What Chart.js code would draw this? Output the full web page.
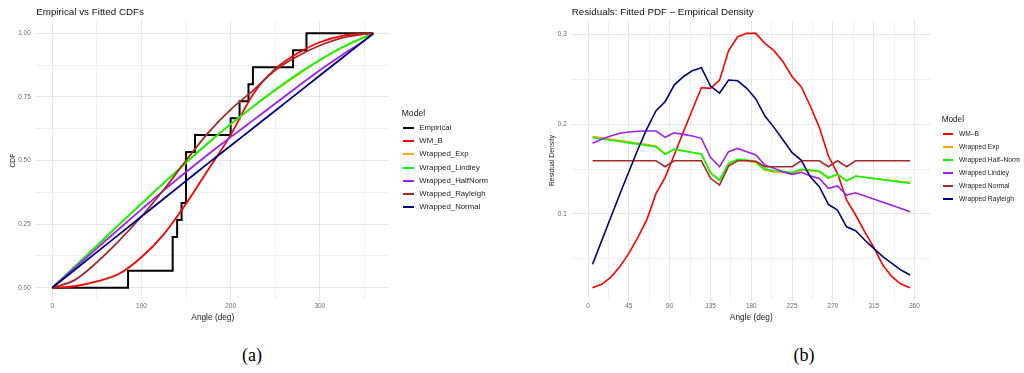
<!DOCTYPE html>
<html><head><meta charset="utf-8">
<script src="https://cdn.jsdelivr.net/npm/chart.js@4.4.1/dist/chart.umd.min.js"></script>
<style>
html,body{margin:0;padding:0;background:#fff;width:1024px;height:373px;overflow:hidden;position:relative;font-family:"Liberation Sans",Arial,sans-serif;}
canvas{position:absolute;top:0;}
#cA{left:0}
#cB{left:512px}
.lg{position:absolute;white-space:nowrap;color:#1a1a1a;height:12px;line-height:12px}
.sw{position:absolute;height:2px}
.cap{position:absolute;font-family:"Liberation Serif","DejaVu Serif",serif;font-size:18px;transform:translate(-50%,-50%);color:#000}
</style></head>
<body>
<canvas id="cA" width="512" height="330"></canvas>
<canvas id="cB" width="512" height="330"></canvas>
<div class="cap" style="left:252px;top:355px">(a)</div>
<div class="cap" style="left:804px;top:355px">(b)</div>
<script>
// ---------- Panel (a): CDFs ----------
const empAngles = [0, 85, 135, 140, 145, 150, 160, 200, 210, 220, 225, 270, 285, 360];
const empCDF    = [0, 0.0667, 0.2, 0.2667, 0.3333, 0.5333, 0.6, 0.6667, 0.7333, 0.8, 0.8667, 0.9333, 1, 1];

const cdfAngles   = [0, 25, 50, 75, 100, 125, 150, 175, 200, 225, 250, 275, 300, 325, 350, 360];
const cdfWMB      = [0, 0.006, 0.025, 0.055, 0.12, 0.21, 0.33, 0.465, 0.6, 0.76, 0.86, 0.922, 0.965, 0.99, 0.999, 1];
const cdfExp      = [0, 0.082, 0.165, 0.248, 0.33, 0.411, 0.491, 0.569, 0.642, 0.711, 0.776, 0.836, 0.894, 0.944, 0.985, 1];
const cdfLindley  = [0, 0.083, 0.166, 0.249, 0.331, 0.412, 0.492, 0.57, 0.643, 0.712, 0.778, 0.84, 0.895, 0.945, 0.985, 1];
const cdfHalfNorm = [0, 0.078, 0.155, 0.232, 0.308, 0.383, 0.455, 0.525, 0.592, 0.658, 0.724, 0.79, 0.855, 0.915, 0.972, 1];
const cdfRayleigh = [0, 0.03, 0.1, 0.185, 0.28, 0.385, 0.5, 0.61, 0.7, 0.775, 0.855, 0.91, 0.952, 0.982, 0.997, 1];
const cdfNormal   = [0, 0.07, 0.14, 0.21, 0.28, 0.35, 0.42, 0.49, 0.558, 0.627, 0.696, 0.765, 0.834, 0.903, 0.972, 1];

const cdfModels = ['Empirical', 'WM_B', 'Wrapped_Exp', 'Wrapped_Lindley', 'Wrapped_HalfNorm', 'Wrapped_Rayleigh', 'Wrapped_Normal'];
const cdfXTickValues = [0, 50, 100, 150, 200, 250, 300, 350];
const cdfXTickLabels = ['0', '', '100', '', '200', '', '300', ''];
const cdfYTickValues = [0, 0.125, 0.25, 0.375, 0.5, 0.625, 0.75, 0.875, 1];
const cdfYTickLabels = ['0.00', '', '0.25', '', '0.50', '', '0.75', '', '1.00'];

// ---------- Panel (b): residual densities ----------
const resAngles = [5, 15, 25, 35, 45, 55, 65, 75, 85, 95, 105, 115, 125, 135, 145, 155, 165, 175, 185, 195, 205, 215, 225, 235, 245, 255, 265, 275, 285, 295, 305, 315, 325, 335, 345, 355];
const resWMB      = [0.0178, 0.0216, 0.0294, 0.0412, 0.0561, 0.0739, 0.094, 0.1229, 0.1408, 0.1656, 0.191, 0.216, 0.2405, 0.2399, 0.249, 0.282, 0.2973, 0.3011, 0.3011, 0.29, 0.2818, 0.2695, 0.2528, 0.2417, 0.2202, 0.1964, 0.1645, 0.1452, 0.1155, 0.0988, 0.0802, 0.0628, 0.0431, 0.0301, 0.0219, 0.0178];
const resExp      = [0.1862, 0.1847, 0.1832, 0.1817, 0.1802, 0.1787, 0.1772, 0.1757, 0.1668, 0.1722, 0.1703, 0.1684, 0.1665, 0.1455, 0.1372, 0.1556, 0.16, 0.1591, 0.157, 0.1487, 0.1468, 0.1461, 0.1449, 0.1486, 0.1479, 0.1469, 0.1396, 0.1439, 0.1366, 0.1419, 0.1408, 0.1396, 0.1384, 0.1372, 0.136, 0.1352];
const resHalfNorm = [0.1849, 0.1835, 0.182, 0.1806, 0.1791, 0.1777, 0.1762, 0.1748, 0.1664, 0.172, 0.1702, 0.1685, 0.1667, 0.1459, 0.1378, 0.1563, 0.1608, 0.16, 0.1581, 0.1499, 0.1481, 0.1474, 0.1461, 0.1497, 0.1489, 0.1478, 0.1403, 0.1444, 0.137, 0.1422, 0.1409, 0.1395, 0.1381, 0.1368, 0.1354, 0.1341];
const resLindley  = [0.1786, 0.1831, 0.1867, 0.1898, 0.1912, 0.192, 0.1923, 0.1923, 0.1853, 0.1904, 0.1886, 0.1867, 0.1842, 0.163, 0.1526, 0.1693, 0.173, 0.1693, 0.1656, 0.1545, 0.1508, 0.147, 0.1441, 0.1463, 0.1425, 0.1396, 0.1285, 0.1311, 0.121, 0.1236, 0.1201, 0.1166, 0.1131, 0.1096, 0.106, 0.1025];
const resNormal   = [0.1592, 0.1592, 0.1592, 0.1592, 0.1592, 0.1592, 0.1592, 0.1592, 0.1526, 0.1592, 0.1592, 0.1592, 0.1592, 0.1397, 0.1322, 0.1533, 0.1592, 0.1592, 0.1585, 0.1526, 0.1526, 0.1526, 0.1526, 0.1592, 0.1592, 0.1592, 0.1526, 0.1592, 0.1526, 0.1592, 0.1592, 0.1592, 0.1592, 0.1592, 0.1592, 0.1592];
const resRayleigh = [0.044, 0.07, 0.096, 0.122, 0.147, 0.172, 0.195, 0.2149, 0.225, 0.2435, 0.2528, 0.2595, 0.2628, 0.2424, 0.2346, 0.2491, 0.2483, 0.2399, 0.228, 0.209, 0.1964, 0.1823, 0.1682, 0.16, 0.1414, 0.1303, 0.1107, 0.1043, 0.0857, 0.0813, 0.071, 0.0617, 0.0524, 0.045, 0.0375, 0.032];

const resModels = ['WM\u2013B', 'Wrapped Exp', 'Wrapped Half\u2013Norm', 'Wrapped Lindley', 'Wrapped Normal', 'Wrapped Rayleigh'];
const resXTickValues = [0, 22.5, 45, 67.5, 90, 112.5, 135, 157.5, 180, 202.5, 225, 247.5, 270, 292.5, 315, 337.5, 360];
const resXTickLabels = ['0', '', '45', '', '90', '', '135', '', '180', '', '225', '', '270', '', '315', '', '360'];
const resYTickValues = [0.05, 0.1, 0.15, 0.2, 0.25, 0.3];
const resYTickLabels = ['', '0.1', '', '0.2', '', '0.3'];

// ---------- styles ----------
const cdfColors = ['#000000', '#FF0000', '#FFA500', '#00FF00', '#A020F0', '#A52A2A', '#000080'];
const resColors = ['#FF0000', '#FFA500', '#00FF00', '#A020F0', '#A52A2A', '#000080'];

Chart.defaults.font.family = '"Liberation Sans", Arial, sans-serif';
Chart.defaults.animation = false;

function pts(xs, ys) { return xs.map((x, i) => ({x: x, y: ys[i]})); }
const MAJOR = '#e6e6e6', MINOR = '#f1f1f1';

function axis(opts) {
  return {
    type: 'linear', min: opts.min, max: opts.max,
    afterBuildTicks: s => { s.ticks = opts.values.map(v => ({value: v})); },
    afterFit: s => { if (opts.width !== undefined) s.width = opts.width; if (opts.height !== undefined) s.height = opts.height; },
    ticks: { autoSkip: false, maxRotation: 0, padding: opts.pad, color: '#6b6b6b', font: {size: 6.4},
             callback: (v, i) => opts.labels[i] },
    grid: { drawTicks: false, lineWidth: 1, color: c => (opts.labels[c.index] ? MAJOR : MINOR) },
    border: { display: false },
    title: { display: true, text: opts.title, color: '#1a1a1a', font: {size: opts.tsize}, padding: opts.tpad }
  };
}

const cdfSeries = [pts(empAngles, empCDF), pts(cdfAngles, cdfWMB), pts(cdfAngles, cdfExp), pts(cdfAngles, cdfLindley),
                   pts(cdfAngles, cdfHalfNorm), pts(cdfAngles, cdfRayleigh), pts(cdfAngles, cdfNormal)];
new Chart(document.getElementById('cA'), {
  type: 'line',
  data: { datasets: cdfSeries.map((d, i) => ({
    label: cdfModels[i], data: d, borderColor: cdfColors[i], backgroundColor: cdfColors[i],
    borderWidth: i === 0 ? 2 : 1.8, pointRadius: 0, fill: false,
    stepped: i === 0 ? 'before' : false, cubicInterpolationMode: 'monotone', order: 7 - i
  })) },
  options: {
    responsive: false, events: [],
    layout: { padding: {left: 0, right: 122.6, top: 0, bottom: 0} },
    plugins: {
      legend: {display: false}, tooltip: {enabled: false},
      title: { display: true, text: 'Empirical vs Fitted CDFs', align: 'start', fullSize: false, color: '#111',
               font: {size: 9.8, weight: 'normal'}, padding: {top: 6.5, bottom: 2.34} }
    },
    scales: {
      x: axis({min: -18, max: 378, values: cdfXTickValues, labels: cdfXTickLabels, height: 29.5, pad: 2.2,
               title: 'Angle (deg)', tsize: 8.3, tpad: {top: 0, bottom: 7.3}}),
      y: axis({min: -0.05, max: 1.05, values: cdfYTickValues, labels: cdfYTickLabels, width: 36.2, pad: 5.5,
               title: 'CDF', tsize: 6.8, tpad: {top: 9.2, bottom: 0}})
    }
  }
});

const resSeries = [resWMB, resExp, resHalfNorm, resLindley, resNormal, resRayleigh];
new Chart(document.getElementById('cB'), {
  type: 'line',
  data: { datasets: resSeries.map((d, i) => ({
    label: resModels[i], data: pts(resAngles, d), borderColor: resColors[i], backgroundColor: resColors[i],
    borderWidth: 1.6, pointRadius: 0, fill: false, tension: 0, order: 6 - i
  })) },
  options: {
    responsive: false, events: [],
    layout: { padding: {left: 0, right: 93.1, top: 0, bottom: 0} },
    plugins: {
      legend: {display: false}, tooltip: {enabled: false},
      title: { display: true, text: 'Residuals: Fitted PDF \u2013 Empirical Density', align: 'start', fullSize: false, color: '#111',
               font: {size: 9.8, weight: 'normal'}, padding: {top: 6.5, bottom: 2.34} }
    },
    scales: {
      x: axis({min: -18, max: 378, values: resXTickValues, labels: resXTickLabels, height: 29.5, pad: 2.2,
               title: 'Angle (deg)', tsize: 8.3, tpad: {top: 0, bottom: 7.3}}),
      y: axis({min: 0.0036, max: 0.3153, values: resYTickValues, labels: resYTickLabels, width: 59.7, pad: 5,
               title: 'Residual Density', tsize: 6.8, tpad: {top: 35.6, bottom: 0}})
    }
  }
});

// ---------- legends (HTML text) ----------
function legend(titleX, titleY, titleSize, swX, textX, textSize, firstY, step, labels, colors) {
  const t = document.createElement('div');
  t.className = 'lg'; t.textContent = 'Model';
  t.style.left = titleX + 'px'; t.style.top = (titleY - 6) + 'px'; t.style.fontSize = titleSize + 'px';
  document.body.appendChild(t);
  labels.forEach((lab, i) => {
    const cy = firstY + i * step;
    const s = document.createElement('div');
    s.className = 'sw'; s.style.left = swX + 'px'; s.style.top = (cy - 1) + 'px';
    s.style.width = '10.7px'; s.style.background = colors[i];
    document.body.appendChild(s);
    const d = document.createElement('div');
    d.className = 'lg'; d.textContent = lab; d.style.fontSize = textSize + 'px';
    d.style.left = textX + 'px'; d.style.top = (cy - 6) + 'px';
    document.body.appendChild(d);
  });
}
legend(401.7, 113.3, 8.6, 403.3, 419.3, 7.8, 128.3, 13.07, cdfModels, cdfColors);
legend(941.7, 120, 8.2, 942.7, 959, 6.7, 134, 13.06, resModels, resColors);
</script>
</body></html>
